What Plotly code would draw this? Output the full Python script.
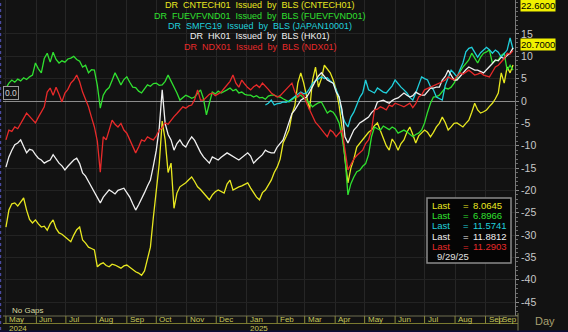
import pandas as pd
import plotly.graph_objects as go

# ---------------- data ----------------
start_date = "2024-05-01"
n_points = 173  # every 3 days, 2024-05-01 .. 2025-09-29

cntech01 = [
    -28.2, -24.4, -23.0, -22.8, -23.5, -22.5, -21.7, -24.4, -26.5, -27.3,
    -26.6, -27.5, -28.2, -28.0, -28.9, -27.5, -26.6, -28.5, -29.5, -29.8,
    -30.4, -31.0, -31.5, -30.0, -28.8, -28.2, -31.1, -31.8, -32.7, -33.0,
    -33.3, -37.1, -36.5, -36.2, -36.8, -37.1, -36.5, -36.7, -37.0, -37.4,
    -36.9, -36.7, -37.2, -37.8, -38.2, -38.5, -39.0, -38.0, -35.6, -32.7,
    -26.0, -20.0, -14.0, -4.5, -8.7, -16.0, -13.9, -24.0, -20.6, -19.2,
    -18.8, -18.3, -17.6, -17.0, -18.0, -19.2, -19.8, -20.6, -21.2, -22.1,
    -21.0, -20.3, -19.9, -20.2, -20.6, -18.6, -17.7, -19.9, -19.5, -19.2,
    -19.0, -18.6, -18.3, -19.5, -20.6, -21.5, -22.1, -20.5, -19.9, -18.8,
    -17.7, -16.0, -14.8, -13.0, -9.4, -8.0, -6.5, -3.0, -1.0, 4.0,
    6.3, 4.0, 1.0, -2.0, 4.7, 7.6, 3.1, 5.0, 8.0, 7.0,
    6.3, 4.7, 2.5, -1.0, -6.0, -13.0, -18.3, -15.0, -13.0, -10.3,
    -9.5, -8.7, -8.0, -7.0, -6.5, -5.5, -4.9, -6.5, -8.0, -10.0,
    -11.0, -8.5, -9.5, -11.0, -9.5, -8.7, -7.0, -5.8, -7.5, -9.4,
    -7.8, -7.2, -6.5, -7.0, -8.0, -7.0, -5.8, -5.0, -3.6, -4.8,
    -6.5, -5.8, -5.0, -4.9, -5.4, -5.8, -5.0, -4.3, -2.5, -0.5,
    -2.0, -2.7, -2.4, -2.0, -1.2, -0.5, 0.5, 1.8, 6.3, 4.0,
    7.6, 6.3, 8.0645,
]

fuevfvnd01 = [
    2.9, 4.0, 4.7, 4.2, 4.9, 4.5, 5.2, 4.8, 5.4, 5.8,
    8.5, 7.2, 6.3, 9.5, 10.7, 8.7, 10.9, 9.3, 8.5, 9.0,
    8.7, 9.4, 9.6, 10.0, 9.3, 8.9, 7.6, 8.0, 6.3, 7.0,
    6.9, 3.5, -1.6, 1.3, 2.4, 3.0, 4.6, 6.3, 5.0, 3.6,
    4.8, 5.4, 4.2, 3.1, 3.0, 2.2, 1.8, 2.8, 3.6, 3.3,
    3.9, 4.0, 3.5, 3.6, 4.4, 5.8, 4.5, 3.1, 1.8, 0.2,
    0.8, 1.3, 1.0, 0.6, 0.9, 1.8, 2.5, 0.5, -3.1, -0.5,
    2.0, 1.6, 2.2, 1.8, 2.1, 2.5, 2.9, 2.3, 2.6, 1.8,
    2.0, 1.5, 1.3, 1.3, 0.9, 1.2, 0.7, 0.8, 0.4, 1.1,
    1.3, 1.3, 1.0, 0.9, 0.5, 0.2, -0.2, 0.3, 0.8, 1.0,
    1.3, 0.6, 0.2, -0.5, -1.3, -0.8, -0.4, -0.2, -1.5, -2.7,
    -2.2, -2.5, -3.5, -4.9, -8.0, -12.5, -21.0, -18.5, -17.0, -15.8,
    -15.5, -14.6, -14.0, -12.0, -8.0, -5.8, -6.2, -6.5, -5.6, -6.0,
    -6.4, -5.8, -6.2, -7.2, -6.8, -6.5, -6.9, -7.4, -8.0, -7.5,
    -7.2, -6.5, -4.9, -2.5, -0.5, 0.9, 1.0, 1.3, 2.0, 2.9,
    2.7, 3.1, 4.0, 5.4, 6.5, 7.6, 8.5, 9.2, 10.7, 9.6,
    8.5, 9.8, 10.7, 11.0, 11.4, 8.5, 9.0, 9.2, 10.2, 10.7,
    6.9, 8.0, 6.8966,
]

smfg19 = [None] * 88 + [
    -0.9, -0.5, 0.2, -0.9, -0.6, -0.5, -0.2, -0.3, 0.0, 0.5,
    0.9, 1.5, 2.0, 1.6, 1.8, 2.8, 4.0, 4.5, 5.0, 5.4,
    5.0, 5.2, 4.5, 4.0, 2.5, 0.9, -3.0, -4.8, -5.8, -3.6,
    -2.5, -1.0, 0.8, 1.8, 4.7, 2.5, 2.2, 1.8, 2.9, 2.4,
    2.0, 1.8, 2.5, 3.4, 4.7, 3.8, 3.1, 2.5, 1.8, 0.8,
    0.2, 1.8, 3.5, 5.4, 5.0, 4.7, 3.2, 2.5, 0.9, 0.6,
    0.2, 3.5, 5.4, 6.9, 6.2, 5.4, 7.0, 8.5, 11.0, 11.8,
    12.0, 11.0, 9.8, 10.8, 11.4, 12.0, 11.5, 10.7, 11.4, 10.9,
    9.8, 10.6, 11.4, 14.1, 11.5741,
]

hk01 = [
    -14.8, -12.5, -11.0, -9.8, -9.4, -8.7, -10.2, -11.6, -10.8, -11.0,
    -12.0, -12.8, -13.2, -13.9, -13.5, -13.2, -12.0, -13.0, -13.9, -14.5,
    -15.4, -14.6, -13.9, -13.2, -12.8, -14.0, -16.1, -16.8, -18.0, -19.2,
    -20.5, -21.8, -22.8, -21.5, -20.6, -19.9, -20.3, -20.8, -20.0, -19.8,
    -19.5, -20.5, -21.5, -23.0, -24.4, -23.2, -22.0, -20.5, -19.0, -17.7,
    -14.5, -11.0, -6.0, 2.5, -5.0, -7.5, -8.7, -11.0, -9.5, -8.7,
    -9.8, -10.3, -9.0, -8.0, -8.8, -10.3, -11.5, -12.5, -13.2, -13.9,
    -12.5, -12.8, -13.2, -12.6, -12.0, -11.6, -12.0, -12.5, -12.8, -13.2,
    -12.6, -12.0, -11.6, -12.3, -13.9, -13.2, -12.5, -12.0, -11.0, -11.4,
    -11.6, -11.6, -10.3, -9.5, -8.7, -6.8, -4.9, -2.8, -2.0, -0.8,
    0.2, 0.6, 0.9, 2.0, 3.4, 4.5, 5.6, 6.3, 5.5, 4.7,
    4.3, 4.0, 2.0, 0.9, -2.0, -8.0, -9.4, -7.8, -6.5, -5.8,
    -4.9, -4.5, -4.0, -3.6, -2.6, -2.0, -0.2, 0.0, 0.2, -0.2,
    -0.5, 0.1, 0.5, 0.7, 1.2, 1.8, 1.3, 0.9, 1.2, 2.0,
    1.6, 1.3, 1.3, 2.0, 2.9, 2.9, 3.1, 3.1, 4.7, 5.5,
    6.9, 5.8, 4.7, 4.7, 5.5, 6.3, 7.0, 7.6, 7.2, 6.9,
    6.9, 6.6, 6.3, 7.0, 7.6, 8.4, 9.2, 9.0, 9.8, 9.5,
    10.2, 10.7, 11.8812,
]

ndx01 = [
    -8.7, -6.5, -6.8, -5.8, -6.2, -4.9, -3.9, -2.7, -3.5, -4.3,
    -4.9, -3.6, -2.5, -1.3, 2.0, 2.9, 1.3, 3.1, 1.5, -0.2,
    1.8, 2.6, 4.0, 4.7, 5.8, 4.3, 2.0, 0.5, -1.3, -3.6,
    -5.8, -9.0, -15.9, -8.0, -8.7, -6.5, -4.3, -5.2, -5.8, -5.0,
    -6.5, -7.2, -8.7, -10.5, -11.6, -10.3, -8.7, -9.0, -8.0, -8.4,
    -8.7, -7.8, -6.5, -6.0, -4.9, -5.2, -4.3, -3.5, -2.8, -2.0,
    -1.3, -1.6, -1.1, -0.9, 0.3, 2.5, 0.2, 0.2, 0.9, 1.5,
    1.8, 1.2, 1.6, 2.0, 2.8, 3.5, 4.4, 5.8, 4.0, 3.1,
    4.7, 3.8, 3.0, 2.5, 3.2, 3.6, 3.0, 4.0, 3.4, 2.6,
    1.8, 1.4, 0.9, 1.2, 1.9, 2.5, 3.2, 4.0, 2.0, 0.9,
    1.8, 1.2, -0.5, -2.0, -3.6, -4.8, -5.5, -6.5, -7.2, -8.0,
    -6.5, -7.0, -8.0, -7.2, -6.5, -11.0, -15.4, -14.2, -13.0, -12.2,
    -11.5, -11.0, -9.5, -8.7, -6.5, -2.0, -1.8, -1.3, -1.6, -2.0,
    -0.9, -1.2, -0.5, -0.7, -1.0, -1.3, -0.8, -0.5, -1.5, -0.6,
    0.9, 1.4, 2.5, 2.8, 3.1, 3.3, 3.6, 4.0, 4.3, 4.7,
    5.4, 5.0, 4.7, 5.5, 6.3, 6.0, 6.5, 6.9, 6.4, 5.8,
    6.0, 6.3, 5.8, 5.6, 5.4, 6.5, 7.6, 8.0, 8.7, 9.5,
    10.7, 10.5, 11.2903,
]

series_names = ["CNTECH01", "FUEVFVND01", "SMFG19", "HK01", "NDX01"]
series_sources = ["CNTECH01", "FUEVFVND01", "JAPAN10001", "HK01", "NDX01"]
series_values = [cntech01, fuevfvnd01, smfg19, hk01, ndx01]
series_colors = ["#e8e820", "#30e030", "#20d0dc", "#f0f0f0", "#e82a2a"]

y_ticks = [15, 10, 5, 0, -5, -10, -15, -20, -25, -30, -35, -40, -45]
month_starts = ["2024-05-01", "2024-06-01", "2024-07-01", "2024-08-01", "2024-09-01",
                "2024-10-01", "2024-11-01", "2024-12-01", "2025-01-01", "2025-02-01",
                "2025-03-01", "2025-04-01", "2025-05-01", "2025-06-01", "2025-07-01",
                "2025-08-01", "2025-09-01", "2025-09-15"]
month_labels = ["May", "Jun", "Jul", "Aug", "Sep", "Oct", "Nov", "Dec", "Jan", "Feb",
                "Mar", "Apr", "May", "Jun", "Jul", "Aug", "Sep", "Sep"]
year_starts = ["2024-05-01", "2025-01-01"]
year_labels = ["2024", "2025"]
last_date_label = "9/29/25"
marker_boxes = ["22.6000", "20.7000"]

dates = pd.date_range(start_date, periods=n_points, freq="3D")

# ---------------- figure ----------------
BG = "#121212"
H = 316.0  # plot height in px
SP = "\u00a0"

def py(pix):
    return 1 - pix / H

fig = go.Figure()
for name, vals, col in zip(series_names, series_values, series_colors):
    fig.add_trace(go.Scatter(x=dates, y=vals, mode="lines", name=name,
                             line=dict(color=col, width=1.3), connectgaps=False))

fig.update_layout(
    width=568, height=332,
    margin=dict(l=3, r=53, t=0, b=16),
    paper_bgcolor=BG, plot_bgcolor=BG,
    showlegend=False,
    font=dict(family="Arial, Liberation Sans, sans-serif", color="#c8c8c8"),
)
fig.update_xaxes(
    range=[pd.Timestamp("2024-04-28"), pd.Timestamp("2025-10-01")],
    tickvals=month_starts[:-1], showticklabels=False, ticks="",
    showgrid=True, gridcolor="#262626", gridwidth=1,
    zeroline=False, showline=False,
)
fig.update_yaxes(
    side="right", range=[-48.1, 22.6],
    tickvals=y_ticks, ticktext=[str(v) for v in y_ticks],
    tickfont=dict(size=10.5, color="#c8c8c8"),
    ticks="outside", ticklen=3, tickcolor="#8a8a8a",
    minor=dict(dtick=1, ticks="outside", ticklen=2, tickcolor="#6a6a6a", showgrid=False),
    showgrid=True, gridcolor="#232323", gridwidth=1,
    zeroline=True, zerolinecolor="#8c8c8c", zerolinewidth=1,
    showline=True, linecolor="#7a7a7a", linewidth=1,
)

ann = []
# series titles
title_y = [5.5, 15.8, 26.1, 36.4, 46.7]
for nm, src, col, yy in zip(series_names, series_sources, series_colors, title_y):
    txt = f"DR{SP*2}{nm}{SP*2}Issued{SP*2}by{SP*2}BLS{SP}({src})"
    ann.append(dict(xref="paper", yref="paper", x=0.502, y=py(yy), text=txt,
                    showarrow=False, xanchor="center", yanchor="middle",
                    font=dict(size=9, color=col)))

# "Last" box
box_rows = [205.5, 215.7, 225.9, 236.1, 246.3]
for vals, col, yy in zip(series_values, series_colors, box_rows):
    ann.append(dict(xref="paper", yref="paper", x=(430 - 3) / 512, y=py(yy), text="Last",
                    showarrow=False, xanchor="left", yanchor="middle",
                    font=dict(size=9.5, color=col)))
    ann.append(dict(xref="paper", yref="paper", x=(461 - 3) / 512, y=py(yy), text="=",
                    showarrow=False, xanchor="left", yanchor="middle",
                    font=dict(size=9.5, color=col)))
    ann.append(dict(xref="paper", yref="paper", x=(471 - 3) / 512, y=py(yy),
                    text=f"{vals[-1]:.4f}",
                    showarrow=False, xanchor="left", yanchor="middle",
                    font=dict(size=9.5, color=col)))
ann.append(dict(xref="paper", yref="paper", x=(435 - 3) / 512, y=py(256.8), text=last_date_label,
                showarrow=False, xanchor="left", yanchor="middle",
                font=dict(size=9.5, color="#e0e0e0")))

# yellow value boxes on the right axis
for txt, yy in zip(marker_boxes, [6, 45]):
    ann.append(dict(xref="paper", yref="paper", x=(520 - 3) / 512, y=py(yy), text=txt,
                    showarrow=False, xanchor="left", yanchor="middle",
                    bgcolor="#f0f000", borderpad=0,
                    font=dict(size=9.5, color="#000000")))

# 0.0 label
ann.append(dict(xref="paper", yref="y", x=0.0, y=0, text="0.0", showarrow=False,
                xanchor="left", yanchor="bottom", yshift=1,
                bgcolor=BG, bordercolor="#9a9a9a", borderwidth=1, borderpad=1,
                font=dict(size=8.5, color="#d0d0d0")))

# month and year labels
for d, lab in zip(month_starts, month_labels):
    ann.append(dict(xref="x", yref="paper", x=d, y=py(319.8), text=lab, showarrow=False,
                    xanchor="left", yanchor="middle", xshift=1,
                    font=dict(size=8, color="#c8c85a")))
for d, lab in zip(year_starts, year_labels):
    ann.append(dict(xref="x", yref="paper", x=d, y=py(328.3), text=lab, showarrow=False,
                    xanchor="left", yanchor="middle", xshift=1,
                    font=dict(size=8, color="#c8c85a")))

ann.append(dict(xref="paper", yref="paper", x=(10 - 3) / 512, y=py(310.5), text=f"No{SP}Gaps",
                showarrow=False, xanchor="left", yanchor="middle",
                font=dict(size=8, color="#d8d8a0")))
ann.append(dict(xref="paper", yref="paper", x=(533 - 3) / 512, y=py(321), text="Day",
                showarrow=False, xanchor="left", yanchor="middle",
                font=dict(size=11, color="#a8a070")))

shapes = []
# Last box border
shapes.append(dict(type="rect", xref="paper", yref="paper",
                   x0=(427 - 3) / 512, x1=(511 - 3) / 512, y0=py(263), y1=py(198),
                   line=dict(color="#8a8a8a", width=1.5), fillcolor="#050505", layer="above"))
# x-axis band lines
shapes.append(dict(type="line", xref="paper", yref="paper", x0=0, x1=(518 - 3) / 512,
                   y0=py(316), y1=py(316), line=dict(color="#6e6e50", width=1)))
shapes.append(dict(type="line", xref="paper", yref="paper", x0=0, x1=(518 - 3) / 512,
                   y0=py(323.5), y1=py(323.5), line=dict(color="#7a7a30", width=1)))
for d in month_starts:
    shapes.append(dict(type="line", xref="x", yref="paper", x0=d, x1=d,
                       y0=py(316), y1=py(323.5), line=dict(color="#8a8a3a", width=1)))
shapes.append(dict(type="line", xref="paper", yref="paper", x0=(518 - 3) / 512, x1=(518 - 3) / 512,
                   y0=py(331), y1=py(313), line=dict(color="#7a7a50", width=1)))
# navy frame edges
shapes.append(dict(type="rect", xref="paper", yref="paper", x0=-0.01, x1=1.11,
                   y0=py(333), y1=py(330.5), line=dict(width=0), fillcolor="#0c0c38"))
shapes.append(dict(type="line", xref="paper", yref="paper", x0=-0.005, x1=-0.005,
                   y0=py(330), y1=py(0), line=dict(color="#4a4aa0", width=1.5, dash="dot")))

fig.update_layout(annotations=ann, shapes=shapes)
fig.write_html("out.html")
